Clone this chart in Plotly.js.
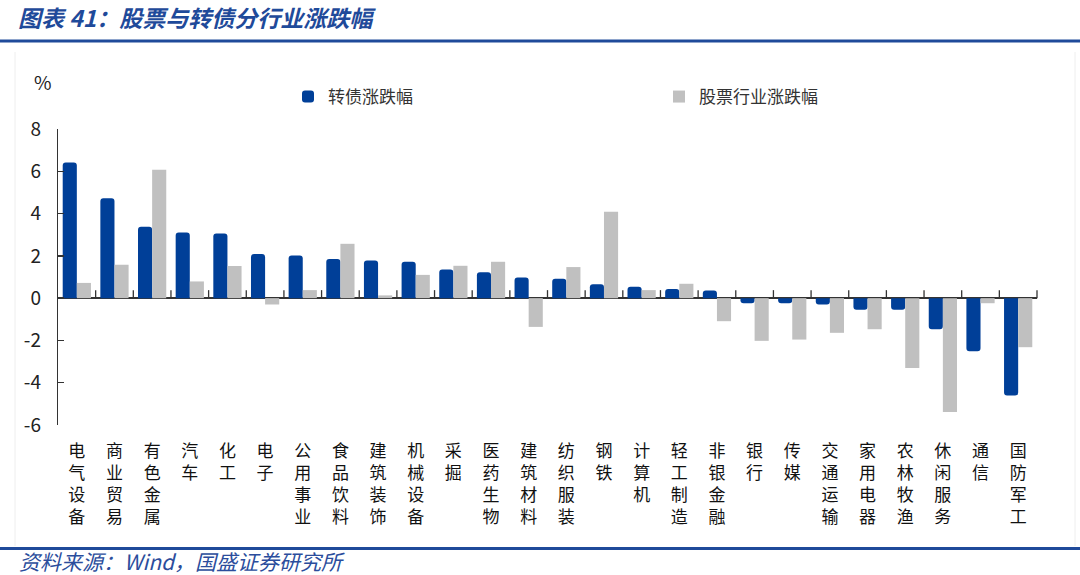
<!DOCTYPE html>
<html>
<head>
<meta charset="utf-8">
<script src="https://cdn.plot.ly/plotly-3.0.1.min.js"></script>
<style>
  html, body { margin: 0; padding: 0; background: #ffffff; }
  #chart { width: 1080px; height: 575px; }
</style>
</head>
<body>
<div id="chart"></div>
<script>
// ---- data ----
const categories = ["电气设备","商业贸易","有色金属","汽车","化工","电子","公用事业","食品饮料","建筑装饰","机械设备","采掘","医药生物","建筑材料","纺织服装","钢铁","计算机","轻工制造","非银金融","银行","传媒","交通运输","家用电器","农林牧渔","休闲服务","通信","国防军工"];
const bondChange = [6.41, 4.72, 3.38, 3.11, 3.06, 2.09, 2.02, 1.85, 1.78, 1.72, 1.36, 1.23, 0.98, 0.92, 0.66, 0.54, 0.43, 0.36, -0.24, -0.24, -0.30, -0.55, -0.55, -1.47, -2.51, -4.60];
const stockChange = [0.72, 1.58, 6.07, 0.79, 1.52, -0.30, 0.38, 2.57, 0.13, 1.10, 1.53, 1.72, -1.36, 1.47, 4.09, 0.38, 0.68, -1.09, -2.02, -1.96, -1.64, -1.47, -3.30, -5.39, -0.24, -2.32];
const seriesNames = ["转债涨跌幅", "股票行业涨跌幅"];
const yTicks = [-6, -4, -2, 0, 2, 4, 6, 8];
const yRange = [-6, 8];
const titleText = "图表 41：股票与转债分行业涨跌幅";
const sourceText = "资料来源：Wind，国盛证券研究所";

// ---- styling ----
const CJK = '"Noto Sans CJK SC", "Noto Sans", sans-serif';
const blue = '#003f98';
const gray = '#c0c0c0';
const headBlue = '#1f4a9a';

const traces = [
  { type: 'bar', name: seriesNames[0], x: categories, y: bondChange,
    marker: { color: blue, cornerradius: 3 } },
  { type: 'bar', name: seriesNames[1], x: categories, y: stockChange,
    marker: { color: gray } }
];

const W = 1080, H = 575, ml = 58, mr = 43, mt = 129, mb = 150;
const pw = W - ml - mr, ph = H - mt - mb;
const px = v => (v - ml) / pw;
const py = v => (H - mb - v) / ph;

const shapes = [];
// category-boundary ticks standing on the zero line
const nCat = categories.length;
const tickH = 8 / ph * (yRange[1] - yRange[0]);   // 8 px tall in data units
for (let i = 1; i <= nCat; i++) {
  shapes.push({ type: 'line', xref: 'paper', yref: 'y', layer: 'above',
    x0: i / nCat, x1: i / nCat, y0: 0, y1: tickH,
    line: { color: '#333333', width: 1.3 } });
}
// header / footer rules and faint frame
shapes.push({ type: 'line', xref: 'paper', yref: 'paper', x0: px(0), x1: px(1080), y0: py(41), y1: py(41),
  line: { color: headBlue, width: 3 } });
shapes.push({ type: 'line', xref: 'paper', yref: 'paper', x0: px(0), x1: px(1080), y0: py(548.5), y1: py(548.5),
  line: { color: headBlue, width: 3 } });
shapes.push({ type: 'line', xref: 'paper', yref: 'paper', x0: px(15), x1: px(15), y0: py(52), y1: py(546),
  line: { color: '#eeeeee', width: 1 } });
shapes.push({ type: 'line', xref: 'paper', yref: 'paper', x0: px(1075), x1: px(1075), y0: py(52), y1: py(546),
  line: { color: '#eeeeee', width: 1 } });

const annotations = [
  { xref: 'paper', yref: 'paper', x: px(16), y: py(17), xanchor: 'left', yanchor: 'middle', showarrow: false,
    text: titleText, font: { family: CJK, size: 23, color: headBlue, weight: 'bold', style: 'italic' } },
  { xref: 'paper', yref: 'paper', x: px(17), y: py(561), xanchor: 'left', yanchor: 'middle', showarrow: false,
    text: sourceText, font: { family: CJK, size: 21, color: '#2b4d9c', style: 'italic' } },
  { xref: 'paper', yref: 'paper', x: px(43), y: py(81), xanchor: 'center', yanchor: 'middle', showarrow: false,
    text: '%', font: { family: CJK, size: 19, color: '#222' } }
];

const layout = {
  width: W, height: H,
  margin: { l: ml, r: mr, t: mt, b: mb, pad: 0 },
  paper_bgcolor: '#ffffff', plot_bgcolor: '#ffffff',
  barmode: 'group', bargap: 0.25, bargroupgap: 0,
  font: { family: CJK, color: '#222' },
  showlegend: true,
  legend: {
    orientation: 'h', x: px(288), y: py(97), xanchor: 'left', yanchor: 'middle',
    font: { family: CJK, size: 17, color: '#333' }, entrywidth: 326, entrywidthmode: 'pixels',
    itemwidth: 30, bgcolor: 'rgba(0,0,0,0)', borderwidth: 0
  },
  xaxis: {
    type: 'category', categoryorder: 'array', categoryarray: categories,
    tickvals: categories, ticktext: categories.map(c => c.split('').join('<br>')),
    tickangle: 0, tickfont: { family: CJK, size: 17, color: '#111' },
    showline: false, showgrid: false, zeroline: false, ticks: '', ticklabelstandoff: 14,
    range: [-0.5, nCat - 0.5], fixedrange: true
  },
  yaxis: {
    range: yRange, tickvals: yTicks, ticktext: yTicks.map(String),
    showline: true, linecolor: '#333', linewidth: 1.2,
    ticks: 'inside', ticklen: 6, tickcolor: '#333', tickwidth: 1.3,
    tickfont: { family: CJK, size: 19, color: '#222' }, ticklabelstandoff: 12,
    showgrid: false, zeroline: true, zerolinecolor: '#333', zerolinewidth: 1.4, fixedrange: true
  },
  shapes: shapes,
  annotations: annotations
};

Plotly.newPlot('chart', traces, layout, { displayModeBar: false, staticPlot: true });
</script>
</body>
</html>
